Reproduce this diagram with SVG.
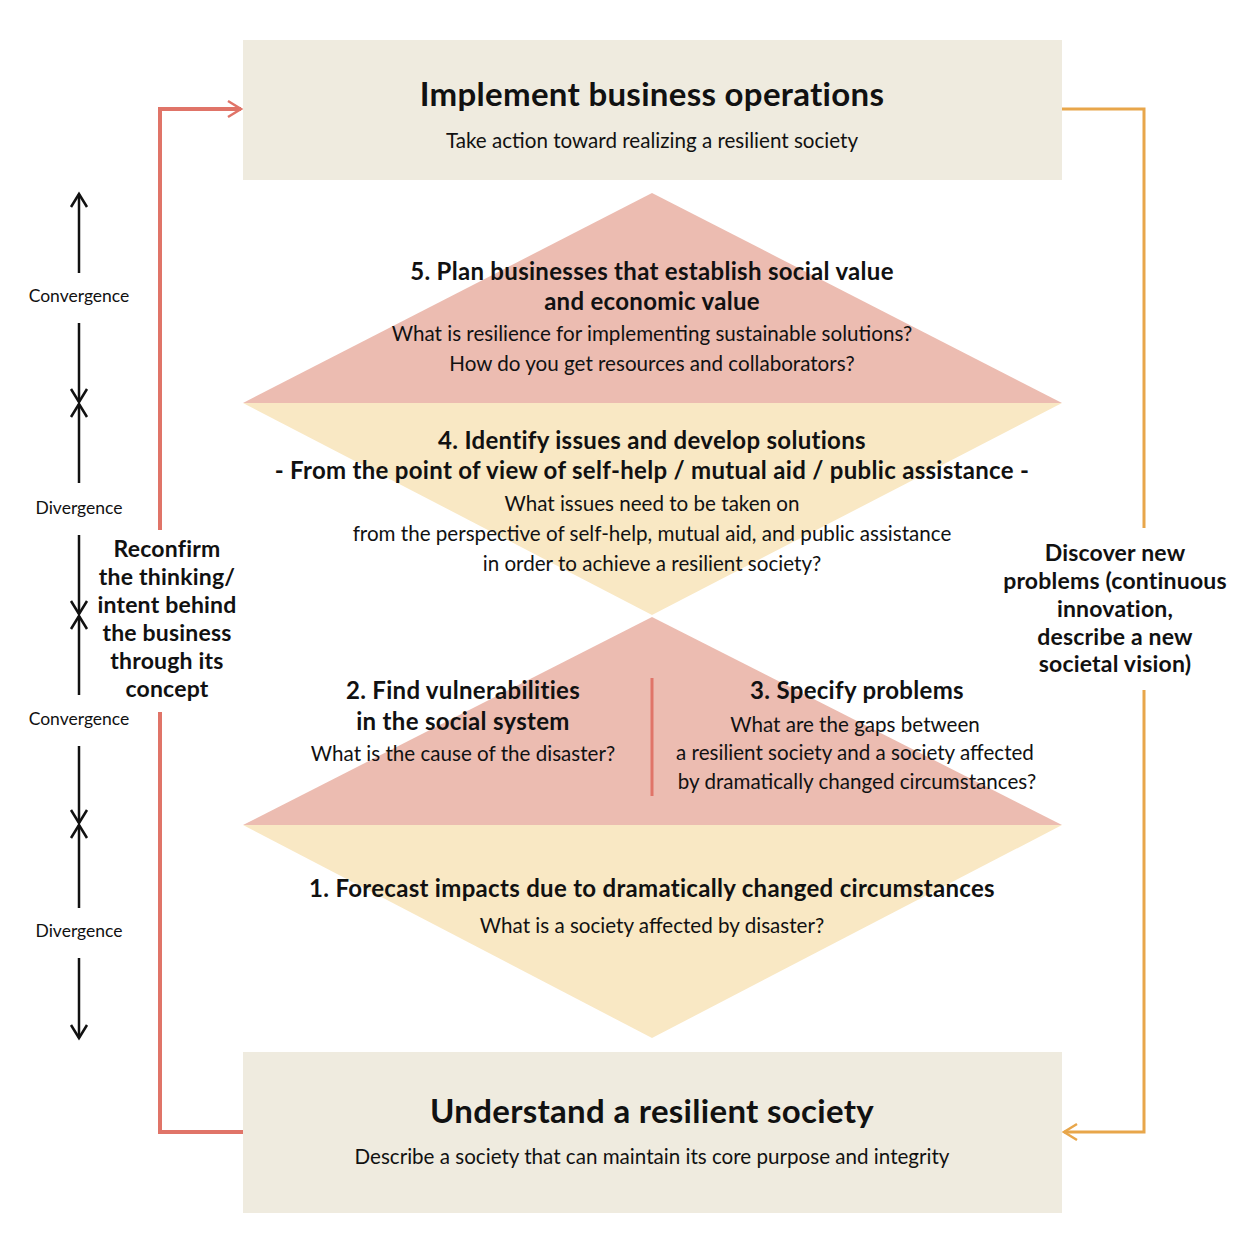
<svg xmlns="http://www.w3.org/2000/svg" width="1246" height="1236" viewBox="0 0 1246 1236">
<style>
text{font-family:"Lato","Liberation Sans",sans-serif;fill:#111;text-anchor:middle}
.h1{font-size:33px;font-weight:bold;letter-spacing:0.3px}
.h2{font-size:24px;font-weight:bold;letter-spacing:0.3px}
.b{font-size:20.6px}
.side{font-size:23px;font-weight:bold;letter-spacing:0.2px}
.lab{font-size:17.5px}
.box{fill:#efebdf}
.pink{fill:#ecbcb1}
.yel{fill:#f9e8c4}
.ax{stroke:#111;stroke-width:2.5;fill:none}
</style>
<defs>
<marker id="ah" viewBox="0 0 20 20" refX="14" refY="10" markerWidth="20" markerHeight="20" markerUnits="userSpaceOnUse" orient="auto">
<path d="M1,2 L14,10 L1,18" fill="none" stroke="context-stroke" stroke-width="2.5"/>
</marker>
</defs>
<g id="shapes">
<polygon class="pink" points="652,193 1062,403 243,403"/>
<polygon class="yel" points="243,403 1062,403 652,615"/>
<polygon class="pink" points="652,617 1062,825 243,825"/>
<polygon class="yel" points="243,825 1062,825 652,1038"/>
<line x1="652" y1="678" x2="652" y2="796" stroke="#e07468" stroke-width="3"/>
</g>
<g id="connectors">
<polyline points="160,530 160,109 241,109" fill="none" stroke="#e07468" stroke-width="4" marker-end="url(#ah)"/>
<polyline points="160,712 160,1132 243,1132" fill="none" stroke="#e07468" stroke-width="4"/>
<polyline points="1062,109 1144,109 1144,528" fill="none" stroke="#e8a64a" stroke-width="3"/>
<polyline points="1144,690 1144,1132 1064,1132" fill="none" stroke="#e8a64a" stroke-width="3" marker-end="url(#ah)"/>
<g id="axis">
<line class="ax" x1="79" y1="273" x2="79" y2="194" marker-end="url(#ah)"/>
<line class="ax" x1="79" y1="323" x2="79" y2="402" marker-end="url(#ah)"/>
<line class="ax" x1="79" y1="483" x2="79" y2="404" marker-end="url(#ah)"/>
<line class="ax" x1="79" y1="535" x2="79" y2="614" marker-end="url(#ah)"/>
<line class="ax" x1="79" y1="695" x2="79" y2="616" marker-end="url(#ah)"/>
<line class="ax" x1="79" y1="746" x2="79" y2="823" marker-end="url(#ah)"/>
<line class="ax" x1="79" y1="908" x2="79" y2="825" marker-end="url(#ah)"/>
<line class="ax" x1="79" y1="958" x2="79" y2="1038" marker-end="url(#ah)"/>
</g>
</g>
<g id="top">
<rect class="box" x="243" y="40" width="819" height="140"/>
<text class="h1" x="652" y="106">Implement business operations</text>
<text class="b" x="652" y="148">Take action toward realizing a resilient society</text>
</g>
<g id="step5">
<text class="h2" x="652" y="280">5. Plan businesses that establish social value</text>
<text class="h2" x="652" y="310">and economic value</text>
<text class="b" x="652" y="341">What is resilience for implementing sustainable solutions?</text>
<text class="b" x="652" y="371">How do you get resources and collaborators?</text>
</g>
<g id="step4">
<text class="h2" x="652" y="449">4. Identify issues and develop solutions</text>
<text class="h2" x="652" y="479">- From the point of view of self-help / mutual aid / public assistance -</text>
<text class="b" x="652" y="511">What issues need to be taken on</text>
<text class="b" x="652" y="541">from the perspective of self-help, mutual aid, and public assistance</text>
<text class="b" x="652" y="571">in order to achieve a resilient society?</text>
</g>
<g id="step2">
<text class="h2" x="463" y="699">2. Find vulnerabilities</text>
<text class="h2" x="463" y="730">in the social system</text>
<text class="b" x="463" y="761">What is the cause of the disaster?</text>
</g>
<g id="step3">
<text class="h2" x="857" y="699">3. Specify problems</text>
<text class="b" x="855" y="732">What are the gaps between</text>
<text class="b" x="855" y="760">a resilient society and a society affected</text>
<text class="b" x="857" y="789">by dramatically changed circumstances?</text>
</g>
<g id="step1">
<text class="h2" x="652" y="897">1. Forecast impacts due to dramatically changed circumstances</text>
<text class="b" x="652" y="933">What is a society affected by disaster?</text>
</g>
<g id="bottom">
<rect class="box" x="243" y="1052" width="819" height="161"/>
<text class="h1" x="652" y="1123">Understand a resilient society</text>
<text class="b" x="652" y="1164">Describe a society that can maintain its core purpose and integrity</text>
</g>
<g id="reconfirm">
<text class="side" x="167" y="557">Reconfirm</text>
<text class="side" x="167" y="585">the thinking/</text>
<text class="side" x="167" y="613">intent behind</text>
<text class="side" x="167" y="641">the business</text>
<text class="side" x="167" y="669">through its</text>
<text class="side" x="167" y="697">concept</text>
</g>
<g id="discover">
<text class="side" x="1115" y="561">Discover new</text>
<text class="side" x="1115" y="589">problems (continuous</text>
<text class="side" x="1115" y="617">innovation,</text>
<text class="side" x="1115" y="645">describe a new</text>
<text class="side" x="1115" y="672">societal vision)</text>
</g>
<g id="labels">
<text class="lab" x="79" y="302">Convergence</text>
<text class="lab" x="79" y="514">Divergence</text>
<text class="lab" x="79" y="725">Convergence</text>
<text class="lab" x="79" y="937">Divergence</text>
</g>
</svg>
